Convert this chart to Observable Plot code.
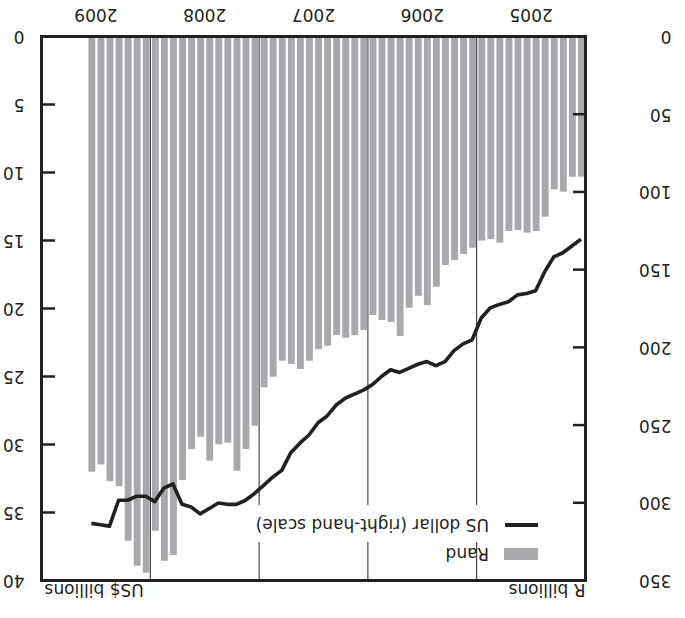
<!DOCTYPE html>
<html>
<head>
<meta charset="utf-8">
<script src="https://cdn.jsdelivr.net/npm/d3@7"></script>
<script src="https://cdn.jsdelivr.net/npm/@observablehq/plot@0.6"></script>
<style>
  html, body { margin: 0; padding: 0; background: #fff; overflow: hidden; }
  #wrap { width: 685px; height: 618px; transform: rotate(180deg); transform-origin: 50% 50%; }
</style>
</head>
<body>
<div id="wrap"></div>
<script>
// ---- data (monthly, Jan 2005 – Jul 2009) ----
const years = [2005, 2006, 2007, 2008, 2009];
const randBillions = [89.9, 89.9, 99.5, 98.0, 115.6, 124.8, 125.9, 124.2, 124.8, 132.3, 130.0, 131.0,
  135.6, 139.6, 143.5, 146.7, 160.7, 172.5, 166.5, 174.2, 192.4, 183.4, 182.1, 178.9,
  188.5, 191.8, 193.5, 191.8, 198.6, 200.8, 208.3, 213.6, 210.4, 208.3, 218.6, 225.4,
  250.1, 265.1, 279.0, 261.0, 262.1, 272.6, 257.2, 265.1, 285.0, 333.3, 337.0, 317.7,
  344.7, 340.2, 324.1, 289.0, 285.8, 275.0, 279.7];
const usdBillions = [14.9, 15.4, 15.9, 16.2, 17.3, 18.7, 18.9, 19.0, 19.5, 19.7, 19.95, 20.7,
  22.3, 22.6, 23.1, 23.9, 24.2, 23.9, 24.1, 24.4, 24.7, 24.5, 25.0, 25.6,
  26.0, 26.3, 26.6, 27.1, 27.9, 28.4, 29.3, 29.9, 30.6, 31.9, 32.4, 33.0,
  33.6, 34.1, 34.4, 34.4, 34.3, 34.7, 35.1, 34.6, 34.4, 32.9, 33.2, 34.2,
  33.8, 33.8, 34.1, 34.1, 36.0, 35.9, 35.8];
const randTicks = [0, 50, 100, 150, 200, 250, 300, 350];
const usdTicks = [0, 5, 10, 15, 20, 25, 30, 35, 40];
const seriesLabels = ["Rand", "US dollar (right-hand scale)"];
const axisTitles = ["R billions", "US$ billions"];

// ---- layout ----
const ink = "#231f20";
const barGrey = "#a7a9ac";
const fs = 17;
const W = 685, H = 618;
const mL = 99, mR = 42, mT = 37, mB = 37;
const frameW = W - mL - mR;
const k = randTicks[randTicks.length - 1] / usdTicks[usdTicks.length - 1]; // US$ -> R-scale
const startYear = years[0];

const chart = Plot.plot({
  width: W,
  height: H,
  marginLeft: mL,
  marginRight: mR,
  marginTop: mT,
  marginBottom: mB,
  style: { fontFamily: "DejaVu Sans", fontSize: fs + "px", color: ink, background: "white" },
  x: { domain: [0, years.length * 12], axis: null },
  y: { domain: [0, 350], axis: null },
  marks: [
    Plot.ruleX(years.slice(1), { x: y => (y - startYear) * 12, stroke: ink, strokeWidth: 1 }),
    Plot.rectY(randBillions, {
      x1: (d, i) => i, x2: (d, i) => i + 1, y1: 0, y2: d => d,
      fill: barGrey, insetLeft: 1.1, insetRight: 1.1
    }),
    Plot.line(usdBillions, {
      x: (d, i) => i + 0.5, y: d => d * k,
      stroke: ink, strokeWidth: 3.6, strokeLinejoin: "round", strokeLinecap: "butt"
    }),
    Plot.frame({ stroke: ink, strokeWidth: 3 }),
    Plot.tickY(randTicks.slice(1, -1), { y: d => d, stroke: ink, strokeWidth: 2.5, insetRight: frameW - 13 }),
    Plot.tickY(usdTicks.slice(1, -1), { y: d => d * k, stroke: ink, strokeWidth: 2.5, insetLeft: frameW - 13 }),
    Plot.text(randTicks, { y: d => d, text: d => String(d), frameAnchor: "left", dx: -86, textAnchor: "start", fill: ink, fontSize: fs }),
    Plot.text(usdTicks, { y: d => d * k, text: d => String(d), frameAnchor: "right", dx: 17, textAnchor: "start", fill: ink, fontSize: fs }),
    Plot.text(years, { x: y => (y - startYear) * 12 + 6, text: d => String(d), frameAnchor: "bottom", dy: 28, fill: ink, fontSize: fs }),
    Plot.text([axisTitles[0]], { frameAnchor: "top-left", dy: -16, textAnchor: "start", fill: ink, fontSize: fs }),
    Plot.text([axisTitles[1]], { frameAnchor: "top-right", dy: -16, dx: -3, textAnchor: "end", fill: ink, fontSize: fs })
  ]
});

// ---- legend (inside the plot, top-left) ----
const svg = d3.select(chart);
const g = svg.append("g")
  .attr("font-family", "DejaVu Sans").attr("font-size", fs).attr("text-anchor", "start");
g.append("rect").attr("x", mL + 41).attr("y", mT + 39).attr("width", 300).attr("height", 37).attr("fill", "white");
g.append("rect").attr("x", mL + 48).attr("y", mT + 21).attr("width", 34).attr("height", 12).attr("fill", barGrey);
g.append("text").attr("x", mL + 97).attr("y", mT + 27).attr("dy", "0.35em").attr("fill", ink).text(seriesLabels[0]);
g.append("line").attr("x1", mL + 48).attr("x2", mL + 81).attr("y1", mT + 56).attr("y2", mT + 56)
  .attr("stroke", ink).attr("stroke-width", 4);
g.append("text").attr("x", mL + 97).attr("y", mT + 56).attr("dy", "0.35em").attr("fill", ink).text(seriesLabels[1]);

document.getElementById("wrap").appendChild(chart);
</script>
</body>
</html>
